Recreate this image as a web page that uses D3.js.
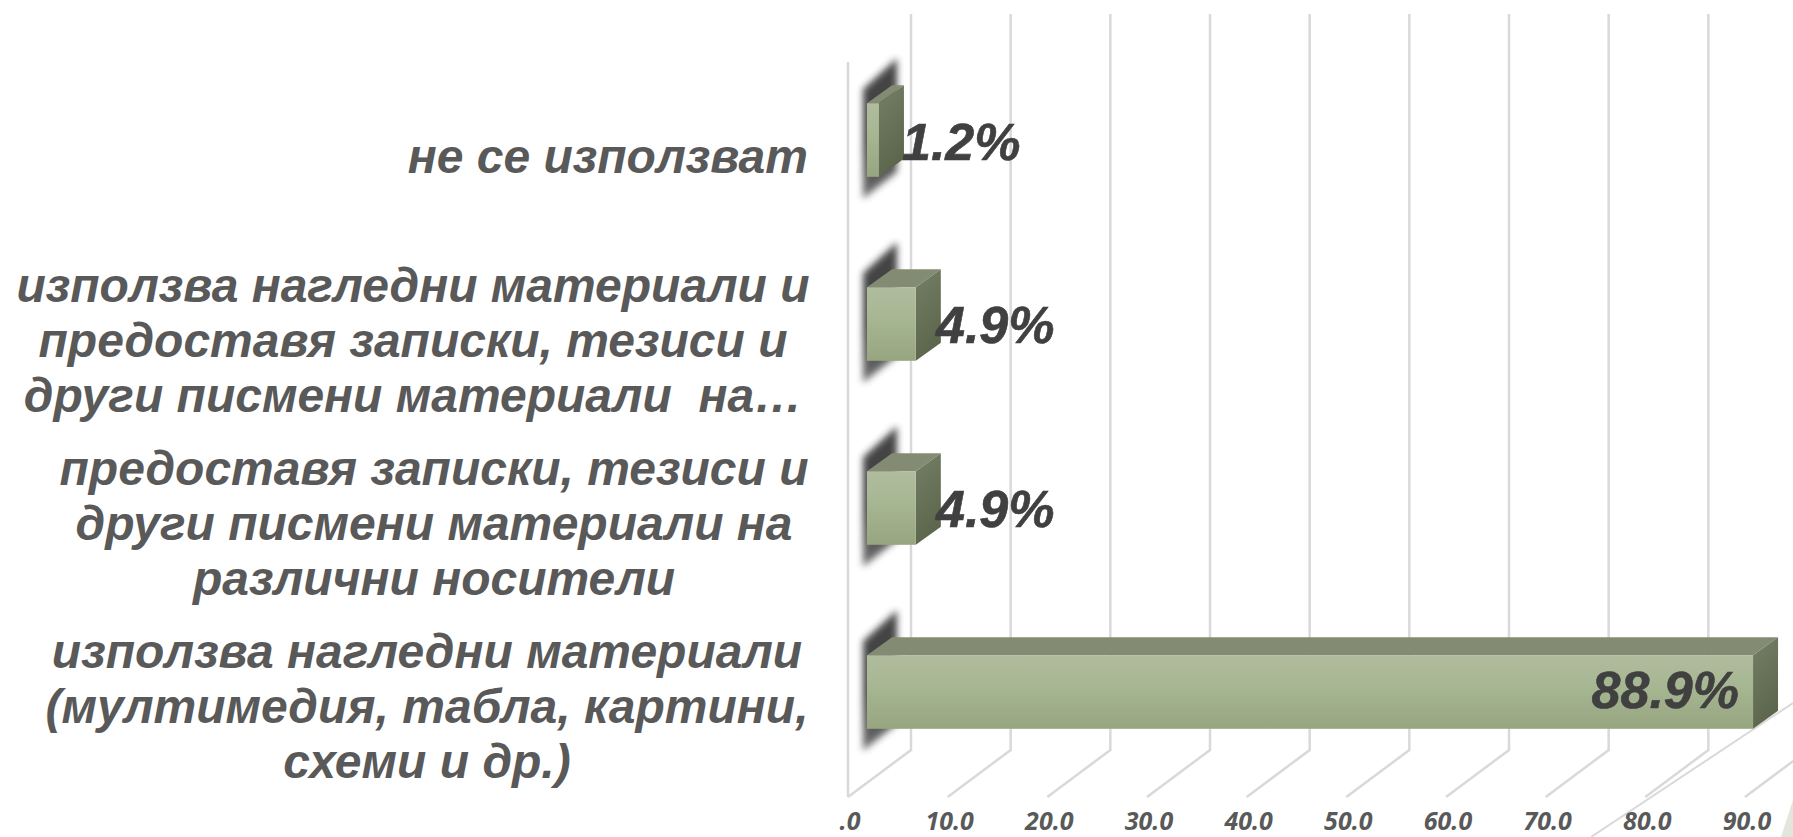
<!DOCTYPE html>
<html><head><meta charset="utf-8">
<script src="https://cdn.jsdelivr.net/npm/d3@7"></script>
<style>html,body{margin:0;padding:0;background:#fff;overflow:hidden}svg{display:block}</style>
</head><body><svg id="c" width="1793" height="837"></svg>
<script>
const categories = ["не се използват","използва нагледни материали и предоставя записки, тезиси и други писмени материали на различни носители","предоставя записки, тезиси и други писмени материали на различни носители","използва нагледни материали (мултимедия, табла, картини, схеми и др.)"];
const categoryLines = [
 ["не се използват"],
 ["използва нагледни материали и","предоставя записки, тезиси и","други писмени материали  на…"],
 ["предоставя записки, тезиси и","други писмени материали на","различни носители"],
 ["използва нагледни материали","(мултимедия, табла, картини,","схеми и др.)"]
];
const values = [1.2,4.9,4.9,88.9];
const valueLabels = ["1.2%","4.9%","4.9%","88.9%"];
const ticks = [0,10,20,30,40,50,60,70,80,90];
const tickLabels = [".0","10.0","20.0","30.0","40.0","50.0","60.0","70.0","80.0","90.0"];

const svg = d3.select("#c");
const dx = 63, dy = 47;            // floor depth
const bdx = 25, bdy = 18;          // bar depth
const x = d3.scaleLinear().domain([0,90]).range([848,1745]);
const y = d3.scaleBand().domain(categories).range([48,784]).paddingInner(0.6).paddingOuter(0.3);
const floorY = 797, wallTop = 14;

const defs = svg.append("defs");
const fg = defs.append("linearGradient").attr("id","front").attr("x1",0).attr("y1",0).attr("x2",0).attr("y2",1);
[[0,"#b0bc9e"],[.45,"#a6b691"],[1,"#97a581"]].forEach(s=>fg.append("stop").attr("offset",s[0]).attr("stop-color",s[1]));
const sg = defs.append("linearGradient").attr("id","side").attr("x1",0).attr("y1",0).attr("x2",.3).attr("y2",1);
[[0,"#747f65"],[1,"#5c664c"]].forEach(s=>sg.append("stop").attr("offset",s[0]).attr("stop-color",s[1]));
const sh = defs.append("linearGradient").attr("id","shade").attr("x1",0).attr("y1",0).attr("x2",0).attr("y2",1);
[[0,"#3a3a3a"],[.6,"#3a3a3a"],[1,"#666"]].forEach(s=>sh.append("stop").attr("offset",s[0]).attr("stop-color",s[1]));
defs.append("filter").attr("id","blur").attr("x","-60%").attr("y","-30%").attr("width","220%").attr("height","160%")
  .append("feGaussianBlur").attr("stdDeviation",3.5);

// decoration at corner
svg.append("path").attr("d",d3.line()([[1591,837],[1793,703]])).attr("stroke","#d9d9d9").attr("stroke-width",2).attr("fill","none");
svg.append("path").attr("d",d3.line()([[1781,837],[1793,800],[1793,837]])).attr("fill","#e3e6dc");

// grid
const g = svg.append("g").attr("fill","none").attr("stroke","#d9d9d9").attr("stroke-width",2.5);
g.selectAll("path.g").data(ticks).join("path").attr("class","g")
 .attr("d",t=>d3.line()([[x(t),floorY],[x(t)+dx,floorY-dy],[x(t)+dx,wallTop]]));
g.append("path").attr("d",d3.line()([[x(0),floorY],[x(0),62]]));

// tick labels
svg.selectAll("text.t").data(ticks).join("text").attr("class","t")
 .attr("x",t=>x(t)+2).attr("y",830).attr("text-anchor","middle")
 .attr("font-family","'Open Sans'").attr("font-weight",700).attr("font-style","italic").attr("font-size",25).attr("fill","#595959")
 .text((t,i)=>tickLabels[i]);

// bars
const bars = svg.selectAll("g.b").data(values).join("g").attr("class","b");
const left = x(0)+19, scale = v=>x(v)-x(0);
bars.each(function(v,i){
  const s = d3.select(this), y0 = y(categories[i]), h = y.bandwidth(), x1 = left+scale(v);
  s.append("path").attr("filter","url(#blur)").attr("fill","url(#shade)").attr("opacity",.95)
   .attr("d",d3.line()([[863,y0-14],[897,y0-45],[897,y0+h-5],[863,y0+h+22]]));
  s.append("path").attr("fill","#838c73").attr("d",d3.line()([[left,y0],[left+bdx,y0-bdy],[x1+bdx,y0-bdy],[x1,y0]])+"Z");
  s.append("path").attr("fill","url(#side)").attr("d",d3.line()([[x1,y0],[x1+bdx,y0-bdy],[x1+bdx,y0+h-bdy],[x1,y0+h]])+"Z");
  s.append("rect").attr("x",left).attr("y",y0).attr("width",scale(v)).attr("height",h).attr("fill","url(#front)");
});

// value labels
const lblX = [902,936,936,1739];
const lblAnchor = ["start","start","start","end"];
svg.selectAll("text.v").data(values).join("text").attr("class","v")
 .attr("x",(v,i)=>lblX[i]).attr("y",(v,i)=>[160,343,527,708][i]).attr("text-anchor",(v,i)=>lblAnchor[i])
 .attr("font-family","'Liberation Sans'").attr("font-weight",700).attr("font-style","italic").attr("font-size",52).attr("fill","#404040")
 .attr("stroke","#404040").attr("stroke-width",0.6)
 .text((v,i)=>valueLabels[i]);

// category labels
const cy = [173,302,485,668];
const cx = [808,413,434,427];
categoryLines.forEach((ls,i)=>{
  const t = svg.append("text").attr("font-family","'Liberation Sans'").attr("font-weight",700).attr("font-style","italic")
   .attr("font-size",48).attr("fill","#595959").attr("text-anchor",i==0?"end":"middle").attr("xml:space","preserve").style("white-space","pre");
  ls.forEach((l,j)=>t.append("tspan").attr("x",cx[i]).attr("y",cy[i]+j*55).text(l));
});
</script></body></html>
